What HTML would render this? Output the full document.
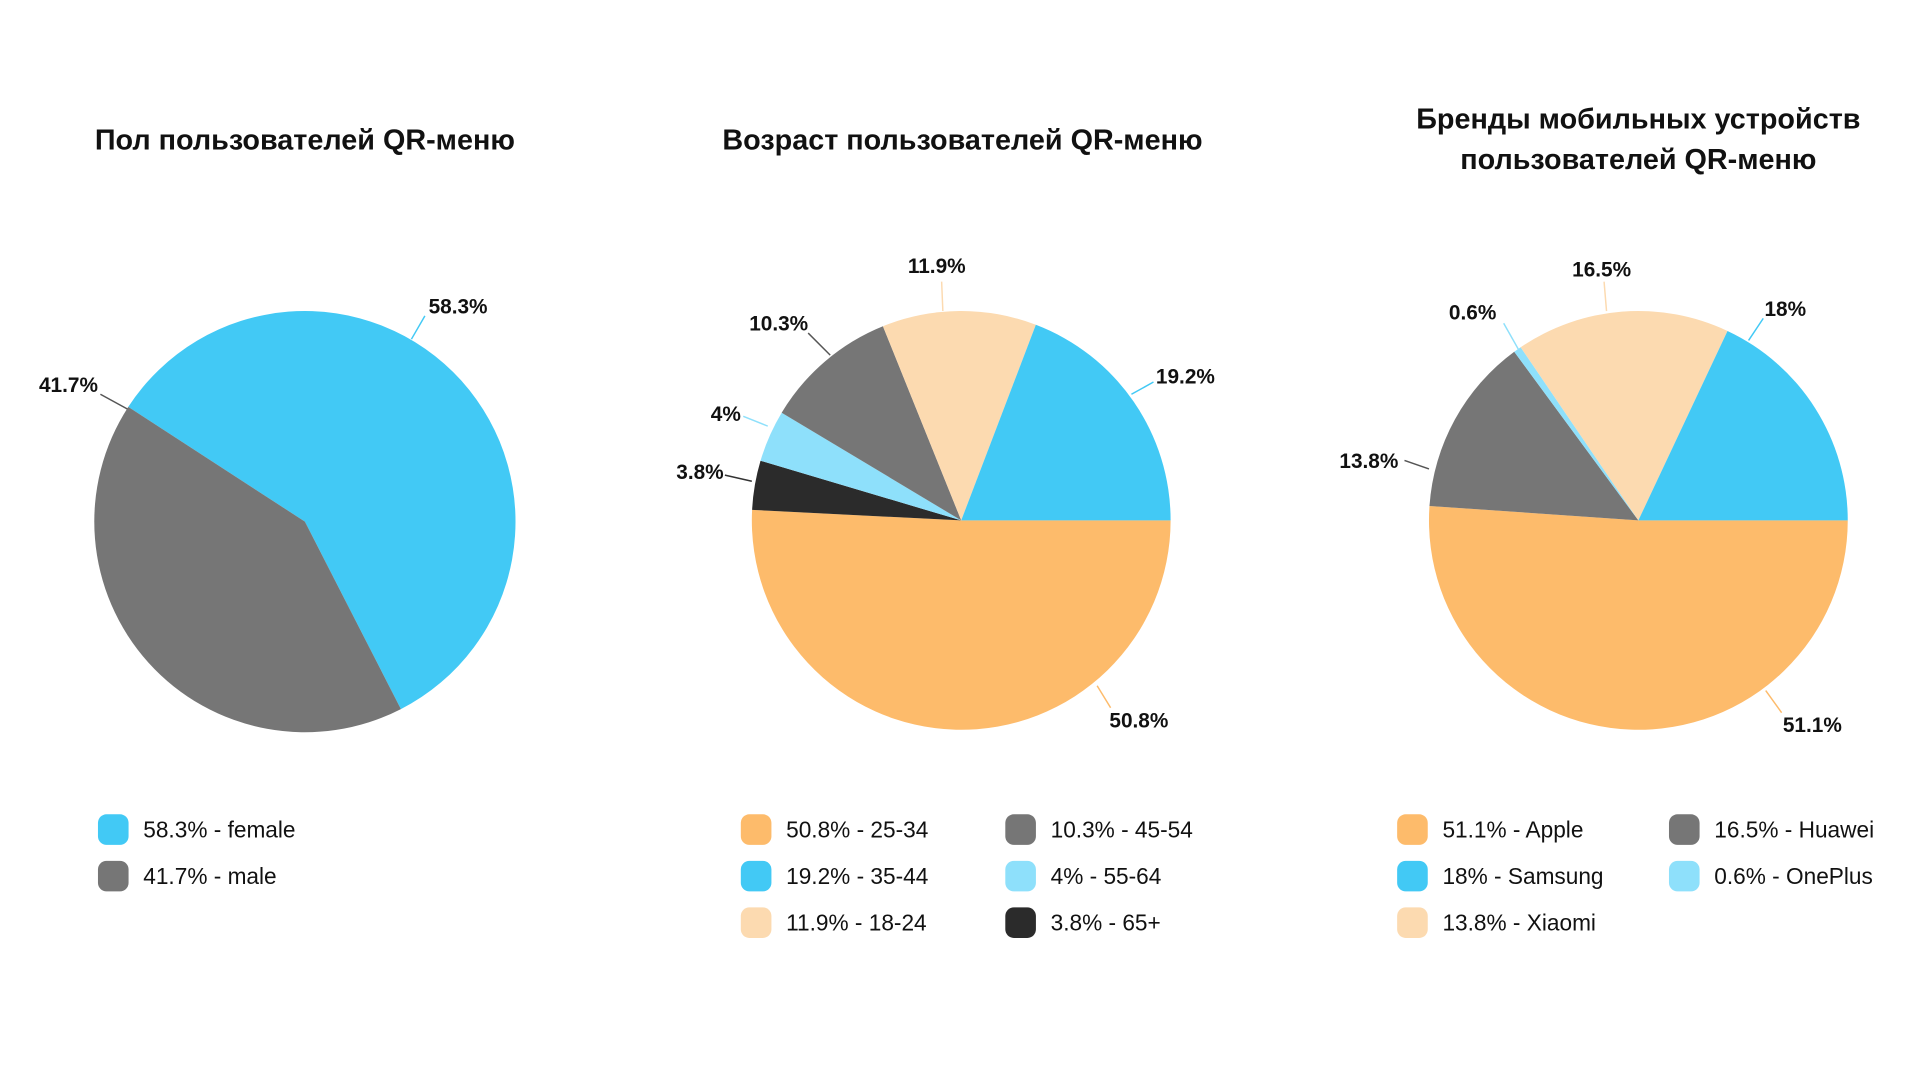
<!DOCTYPE html>
<html><head><meta charset="utf-8"><style>
html,body{margin:0;padding:0;background:#fff;}
svg{display:block;font-family:"Liberation Sans","DejaVu Sans",sans-serif;}
.t{font-size:23.5px;font-weight:bold;fill:#111;text-anchor:middle}
.l{font-size:17px;font-weight:bold;fill:#111}
.g{font-size:18.5px;fill:#111}
</style></head><body>
<svg id="s" width="1920" height="1080" viewBox="0 0 1568 882" preserveAspectRatio="none" xmlns="http://www.w3.org/2000/svg">
<text class="t" x="249" y="122">Пол пользователей QR-меню</text>
<text class="t" x="786" y="122">Возраст пользователей QR-меню</text>
<text class="t" x="1338" y="105">Бренды мобильных устройств</text>
<text class="t" x="1338" y="138">пользователей QR-меню</text>
<g id="pies"></g>
<g stroke-width="1.2">
<line x1="336" y1="277" x2="347" y2="258" stroke="#42c9f5"/>
<line x1="104" y1="334" x2="82" y2="322" stroke="#555"/>
<line x1="770" y1="254" x2="769" y2="230" stroke="#fcdab0"/>
<line x1="678" y1="290" x2="660" y2="272" stroke="#555"/>
<line x1="627" y1="348" x2="607" y2="340" stroke="#8ee0fb"/>
<line x1="614" y1="393" x2="592" y2="388" stroke="#333"/>
<line x1="924" y1="322" x2="942" y2="312" stroke="#42c9f5"/>
<line x1="896" y1="560" x2="907" y2="578" stroke="#fdbb6b"/>
<line x1="1312" y1="254" x2="1310" y2="230" stroke="#fcdab0"/>
<line x1="1241" y1="287" x2="1228" y2="264" stroke="#8ee0fb"/>
<line x1="1428" y1="278" x2="1440" y2="260" stroke="#42c9f5"/>
<line x1="1167" y1="383" x2="1147" y2="376" stroke="#555"/>
<line x1="1442" y1="564" x2="1455" y2="582" stroke="#fdbb6b"/>
</g>
<text class="l" x="350" y="256">58.3%</text>
<text class="l" x="80" y="320" text-anchor="end">41.7%</text>
<text class="l" x="765" y="223" text-anchor="middle">11.9%</text>
<text class="l" x="660" y="270" text-anchor="end">10.3%</text>
<text class="l" x="605" y="344" text-anchor="end">4%</text>
<text class="l" x="591" y="391" text-anchor="end">3.8%</text>
<text class="l" x="944" y="313">19.2%</text>
<text class="l" x="906" y="594">50.8%</text>
<text class="l" x="1308" y="226" text-anchor="middle">16.5%</text>
<text class="l" x="1222" y="261" text-anchor="end">0.6%</text>
<text class="l" x="1441" y="258">18%</text>
<text class="l" x="1142" y="382" text-anchor="end">13.8%</text>
<text class="l" x="1456" y="598">51.1%</text>
<g id="leg"></g>
</svg>
<script>
var NS="http://www.w3.org/2000/svg";
var C={b:"#42c9f5",g:"#767676",o:"#fdbb6b",p:"#fcdab0",lb:"#8ee0fb",k:"#2b2b2b"};
function pie(cx,cy,r,start,segs){
 var a=start,g=document.getElementById("pies");
 segs.forEach(function(s){
  var sw=s[0]*3.6,a1=a*Math.PI/180,a2=(a+sw)*Math.PI/180;
  var d="M"+cx+","+cy+"L"+(cx+r*Math.cos(a1))+","+(cy+r*Math.sin(a1))+"A"+r+","+r+" 0 "+(sw>180?1:0)+" 1 "+(cx+r*Math.cos(a2))+","+(cy+r*Math.sin(a2))+"Z";
  var p=document.createElementNS(NS,"path");p.setAttribute("d",d);p.setAttribute("fill",C[s[1]]);g.appendChild(p);a+=sw;});
}
pie(249,426,172,213,[[58.3,"b"],[41.7,"g"]]);
pie(785,425,171,0,[[50.8,"o"],[3.8,"k"],[4,"lb"],[10.3,"g"],[11.9,"p"],[19.2,"b"]]);
pie(1338,425,171,0,[[51.1,"o"],[13.8,"g"],[0.6,"lb"],[16.5,"p"],[18,"b"]]);
var L=[[80,665,"b","58.3% - female"],[80,703,"g","41.7% - male"],
[605,665,"o","50.8% - 25-34"],[605,703,"b","19.2% - 35-44"],[605,741,"p","11.9% - 18-24"],
[821,665,"g","10.3% - 45-54"],[821,703,"lb","4% - 55-64"],[821,741,"k","3.8% - 65+"],
[1141,665,"o","51.1% - Apple"],[1141,703,"b","18% - Samsung"],[1141,741,"p","13.8% - Xiaomi"],
[1363,665,"g","16.5% - Huawei"],[1363,703,"lb","0.6% - OnePlus"]];
var lg=document.getElementById("leg");
L.forEach(function(e){
 var r=document.createElementNS(NS,"rect");r.setAttribute("x",e[0]);r.setAttribute("y",e[1]);r.setAttribute("width",25);r.setAttribute("height",25);r.setAttribute("rx",7);r.setAttribute("fill",C[e[2]]);lg.appendChild(r);
 var t=document.createElementNS(NS,"text");t.setAttribute("x",e[0]+37);t.setAttribute("y",e[1]+19);t.setAttribute("class","g");t.textContent=e[3];lg.appendChild(t);
});
</script>
</body></html>
